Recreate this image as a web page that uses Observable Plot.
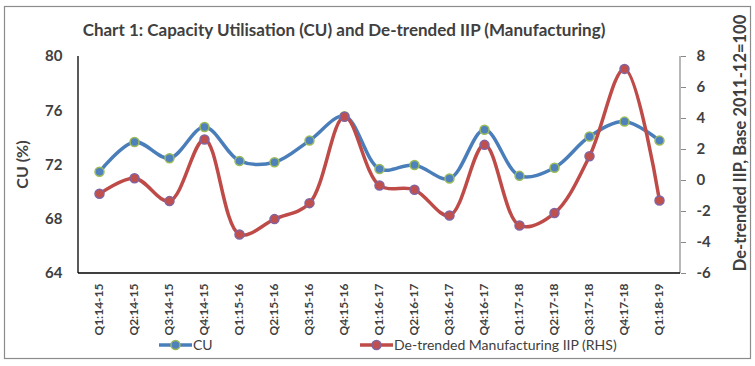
<!DOCTYPE html>
<html>
<head>
<meta charset="utf-8">
<script src="https://cdn.jsdelivr.net/npm/d3@7"></script>
<script src="https://cdn.jsdelivr.net/npm/@observablehq/plot@0.6"></script>
<style>
  html, body { margin: 0; padding: 0; background: #fff; }
  svg { display: block; }
</style>
</head>
<body>
<div id="chart"></div>
<script>
const quarters = ["Q1:14-15","Q2:14-15","Q3:14-15","Q4:14-15","Q1:15-16","Q2:15-16","Q3:15-16","Q4:15-16",
  "Q1:16-17","Q2:16-17","Q3:16-17","Q4:16-17","Q1:17-18","Q2:17-18","Q3:17-18","Q4:17-18","Q1:18-19"];
const cu = [71.5, 73.7, 72.5, 74.8, 72.3, 72.2, 73.8, 75.6, 71.7, 72.0, 71.0, 74.6, 71.2, 71.8, 74.1, 75.2, 73.8];
const iip = [-0.86, 0.15, -1.33, 2.65, -3.48, -2.49, -1.46, 4.11, -0.32, -0.6, -2.26, 2.3, -2.9, -2.1, 1.57, 7.2, -1.29];
const cuTicks = [64, 68, 72, 76, 80];
const iipTicks = [-6, -4, -2, 0, 2, 4, 6, 8];

const title = "Chart 1: Capacity Utilisation (CU) and De-trended IIP (Manufacturing)";
const leftTitle = "CU (%)";
const rightTitle = "De-trended IIP, Base 2011-12=100";
const legendCU = "CU";
const legendIIP = "De-trended Manufacturing IIP (RHS)";

// map right-axis values onto left-axis domain
const toLeft = v => 64 + (v + 6) * 16 / 14;
const fromLeft = d => Math.round((d - 64) * 14 / 16 - 6);

const data = quarters.map((q, i) => ({q, cu: cu[i], iip: toLeft(iip[i])}));

const txt = "#404040";
const blue = "#4A7EBB", blueMk = "#4F81BD", green = "#9BBB59";
const red = "#BE4B48", redMk = "#C0504D", purple = "#8064A2";

const chart = Plot.plot({
  width: 755, height: 366,
  marginLeft: 78, marginRight: 75, marginTop: 56, marginBottom: 93,
  style: {fontFamily: "Lato, sans-serif", background: "white", color: txt},
  x: {type: "point", domain: quarters, padding: 0.5},
  y: {domain: [64, 80]},
  marks: [
    Plot.axisX({tickRotate: -90, tickSize: 0, tickPadding: 10, fontWeight: "bold", fontSize: 12, fill: txt, label: null}),
    Plot.axisY({ticks: cuTicks, tickSize: 0, tickPadding: 16, fontWeight: "bold", fontSize: 15, fill: txt, label: null}),
    Plot.axisY({anchor: "right", ticks: iipTicks.map(toLeft), tickFormat: fromLeft, tickSize: 5, tickPadding: 11,
      stroke: "#888", fontWeight: "bold", fontSize: 15, fill: txt, label: null}),
    Plot.line(data, {x: "q", y: "cu", stroke: blue, strokeWidth: 3.5, curve: "catmull-rom"}),
    Plot.dot(data, {x: "q", y: "cu", r: 4.5, fill: blueMk, stroke: green, strokeWidth: 1.5}),
    Plot.line(data, {x: "q", y: "iip", stroke: red, strokeWidth: 3.5, curve: "catmull-rom"}),
    Plot.dot(data, {x: "q", y: "iip", r: 4.5, fill: redMk, stroke: purple, strokeWidth: 1.5})
  ]
});

document.getElementById("chart").appendChild(chart);

const svg = d3.select(chart);
const ys = chart.scale("y");
const left = 78, right = 755 - 75;
const yTop = ys.apply(80), yBot = ys.apply(64);

// axis lines
svg.append("line").attr("x1", left).attr("x2", left).attr("y1", yTop).attr("y2", yBot).attr("stroke", "#000").attr("stroke-width", 1.3);
svg.append("line").attr("x1", right).attr("x2", right).attr("y1", yTop).attr("y2", yBot).attr("stroke", "#888").attr("stroke-width", 1.2);
svg.append("line").attr("x1", left).attr("x2", right).attr("y1", yBot).attr("y2", yBot).attr("stroke", "#000").attr("stroke-width", 1.5);

// border
svg.append("rect").attr("x", 4.5).attr("y", 6.5).attr("width", 746).attr("height", 352)
  .attr("fill", "none").attr("stroke", "#8c8c8c").attr("stroke-width", 1.2);

// title
svg.append("text").attr("x", 344).attr("y", 36).attr("text-anchor", "middle")
  .attr("font-family", "Lato, sans-serif").attr("font-weight", "bold").attr("font-size", 17).attr("fill", txt).text(title);

// axis titles
svg.append("text").attr("transform", `translate(28,${(yTop + yBot) / 2}) rotate(-90)`).attr("text-anchor", "middle")
  .attr("font-family", "Lato, sans-serif").attr("font-weight", "bold").attr("font-size", 16).attr("fill", txt).text(leftTitle);
svg.append("text").attr("transform", `translate(746,143) rotate(-90)`).attr("text-anchor", "middle")
  .attr("font-family", "Lato, sans-serif").attr("font-weight", "bold").attr("font-size", 16.5).attr("fill", txt).text(rightTitle);

// legend
function legendItem(x, lineC, mkFill, mkStroke, label) {
  const y = 345;
  svg.append("line").attr("x1", x).attr("x2", x + 33).attr("y1", y).attr("y2", y).attr("stroke", lineC).attr("stroke-width", 3.5);
  svg.append("circle").attr("cx", x + 16.5).attr("cy", y).attr("r", 4.5).attr("fill", mkFill).attr("stroke", mkStroke).attr("stroke-width", 1.5);
  svg.append("text").attr("x", x + 34).attr("y", y + 5).attr("text-anchor", "start")
    .attr("font-family", "Lato, sans-serif").attr("font-size", 14).attr("fill", txt).text(label);
}
legendItem(159, blue, blueMk, green, legendCU);
legendItem(360, red, redMk, purple, legendIIP);
</script>
</body>
</html>
